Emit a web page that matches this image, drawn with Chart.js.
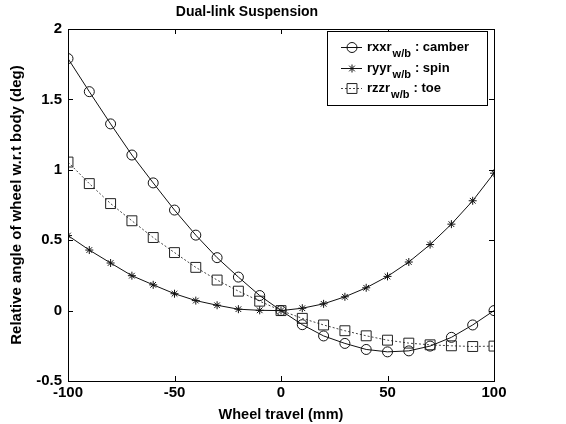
<!DOCTYPE html>
<html>
<head>
<meta charset="utf-8">
<script src="https://cdn.jsdelivr.net/npm/chart.js@4"></script>
<style>
  html, body { margin: 0; padding: 0; background: #fff; }
  #wrap { width: 566px; height: 424px; }
</style>
</head>
<body>
<div id="wrap"><canvas id="grafico" width="566" height="424"></canvas></div>
<script>
//--------------------------------------------------
// DADOS
//--------------------------------------------------

const travel = [-100, -90, -80, -70, -60, -50, -40, -30, -20, -10, 0,
                10, 20, 30, 40, 50, 60, 70, 80, 90, 100];

const camber = [1.79, 1.555, 1.326, 1.105, 0.907, 0.714, 0.536, 0.376, 0.238, 0.107, 0,
                -0.10, -0.18, -0.233, -0.276, -0.293, -0.286, -0.252, -0.19, -0.102, 0];

const spin = [0.533, 0.43, 0.338, 0.248, 0.183, 0.12, 0.071, 0.038, 0.01, 0.002, 0,
              0.017, 0.048, 0.098, 0.162, 0.243, 0.345, 0.469, 0.614, 0.78, 0.976];

const toe = [1.055, 0.902, 0.76, 0.638, 0.519, 0.412, 0.307, 0.217, 0.138, 0.067, 0,
             -0.055, -0.102, -0.143, -0.179, -0.21, -0.231, -0.243, -0.25, -0.255, -0.252];

const xTicks = [-100, -50, 0, 50, 100];
const yTicks = [-0.5, 0, 0.5, 1, 1.5, 2];

const legendNames = ['rxxr', 'ryyr', 'rzzr'];
const legendTails = [': camber', ': spin', ': toe'];

const FONTE = '"Liberation Sans", Arial, sans-serif';

function pares(ys) {
  return travel.map((x, i) => ({ x: x, y: ys[i] }));
}

//--------------------------------------------------
// EIXOS (caixa + ticks para dentro) E LEGENDA
//--------------------------------------------------

const caixaPlugin = {
  id: 'caixa',
  afterDatasetsDraw(chart) {
    const { ctx, chartArea: a, scales: { x, y } } = chart;
    ctx.save();
    ctx.strokeStyle = '#000';
    ctx.lineWidth = 1;
    ctx.strokeRect(a.left + 0.5, a.top + 0.5, a.right - a.left, a.bottom - a.top);

    ctx.beginPath();
    xTicks.forEach(v => {
      const px = Math.round(x.getPixelForValue(v)) + 0.5;
      ctx.moveTo(px, a.bottom); ctx.lineTo(px, a.bottom - 5);
      ctx.moveTo(px, a.top);    ctx.lineTo(px, a.top + 5);
    });
    yTicks.forEach(v => {
      const py = Math.round(y.getPixelForValue(v)) + 0.5;
      ctx.moveTo(a.left, py);  ctx.lineTo(a.left + 5, py);
      ctx.moveTo(a.right, py); ctx.lineTo(a.right - 5, py);
    });
    ctx.stroke();

    //-----------------------------------
    // LEGENDA
    //-----------------------------------

    const bx = 327, by = 31, bw = 160, bh = 74;
    ctx.fillStyle = '#fff';
    ctx.fillRect(bx, by, bw, bh);
    ctx.strokeRect(bx + 0.5, by + 0.5, bw, bh);

    const linhas = [47, 68, 88];
    chart.data.datasets.forEach((ds, i) => {
      const yy = linhas[i];
      ctx.save();
      ctx.strokeStyle = ds.borderColor;
      ctx.lineWidth = 1;
      ctx.setLineDash(ds.borderDash || []);
      ctx.beginPath();
      ctx.moveTo(341, yy + 0.5);
      ctx.lineTo(362, yy + 0.5);
      ctx.stroke();
      ctx.setLineDash([]);
      ctx.strokeStyle = ds.pointBorderColor;
      ctx.fillStyle = 'rgba(0,0,0,0)';
      Chart.helpers.drawPoint(ctx, {
        pointStyle: ds.pointStyle,
        radius: ds.pointRadius,
        borderWidth: 1,
        rotation: 0
      }, 352, yy + 0.5);
      ctx.restore();

      ctx.fillStyle = '#000';
      ctx.textBaseline = 'alphabetic';
      ctx.textAlign = 'left';
      ctx.font = 'bold 13px ' + FONTE;
      let tx = 367;
      ctx.fillText(legendNames[i], tx, yy + 4);
      tx += ctx.measureText(legendNames[i]).width + 1;
      ctx.font = 'bold 11px ' + FONTE;
      ctx.fillText('w/b', tx, yy + 10);
      tx += ctx.measureText('w/b').width + 4;
      ctx.font = 'bold 13px ' + FONTE;
      ctx.fillText(legendTails[i], tx, yy + 4);
    });

    ctx.restore();
  }
};

//--------------------------------------------------
// GRÁFICO
//--------------------------------------------------

new Chart(document.getElementById('grafico'), {
  type: 'line',
  data: {
    datasets: [
      {
        label: 'camber',
        data: pares(camber),
        borderColor: '#111',
        borderWidth: 1,
        pointStyle: 'circle',
        pointRadius: 5,
        pointBorderColor: '#111',
        pointBackgroundColor: 'rgba(0,0,0,0)',
        pointBorderWidth: 1
      },
      {
        label: 'spin',
        data: pares(spin),
        borderColor: '#111',
        borderWidth: 1,
        pointStyle: 'star',
        pointRadius: 4,
        pointBorderColor: '#111',
        pointBackgroundColor: 'rgba(0,0,0,0)',
        pointBorderWidth: 1
      },
      {
        label: 'toe',
        data: pares(toe),
        borderColor: '#444',
        borderWidth: 1,
        borderDash: [2, 2],
        pointStyle: 'rect',
        pointRadius: 7,
        pointBorderColor: '#222',
        pointBackgroundColor: 'rgba(0,0,0,0)',
        pointBorderWidth: 1
      }
    ]
  },
  options: {
    responsive: false,
    animation: false,
    layout: { padding: { top: 0, left: 0, right: 72, bottom: 0 } },
    plugins: {
      legend: { display: false },
      tooltip: { enabled: false },
      title: {
        display: true,
        text: 'Dual-link Suspension',
        color: '#000',
        font: { family: FONTE, size: 14, weight: 'bold', lineHeight: 1.2 },
        padding: { top: 4, bottom: 8.2 }
      }
    },
    scales: {
      x: {
        type: 'linear',
        min: -100,
        max: 100,
        afterBuildTicks(scale) { scale.ticks = xTicks.map(v => ({ value: v })); },
        afterFit(scale) { scale.height = 43; },
        grid: { display: false, drawTicks: false },
        border: { display: false },
        ticks: {
          color: '#000',
          padding: 3,
          maxRotation: 0,
          font: { family: FONTE, size: 15, weight: 'bold' }
        },
        title: {
          display: true,
          text: 'Wheel travel (mm)',
          color: '#000',
          padding: { top: 4, bottom: 0 },
          font: { family: FONTE, size: 14.5, weight: 'bold' }
        }
      },
      y: {
        type: 'linear',
        min: -0.5,
        max: 2,
        afterBuildTicks(scale) { scale.ticks = yTicks.map(v => ({ value: v })); },
        afterFit(scale) { scale.width = 68; },
        grid: { display: false, drawTicks: false },
        border: { display: false },
        ticks: {
          color: '#000',
          padding: 6,
          font: { family: FONTE, size: 15, weight: 'bold' },
          callback: v => String(v)
        },
        title: {
          display: true,
          text: 'Relative angle of wheel w.r.t body (deg)',
          color: '#000',
          padding: { top: 8, bottom: 0 },
          font: { family: FONTE, size: 15, weight: 'bold' }
        }
      }
    }
  },
  plugins: [caixaPlugin]
});
</script>
</body>
</html>
